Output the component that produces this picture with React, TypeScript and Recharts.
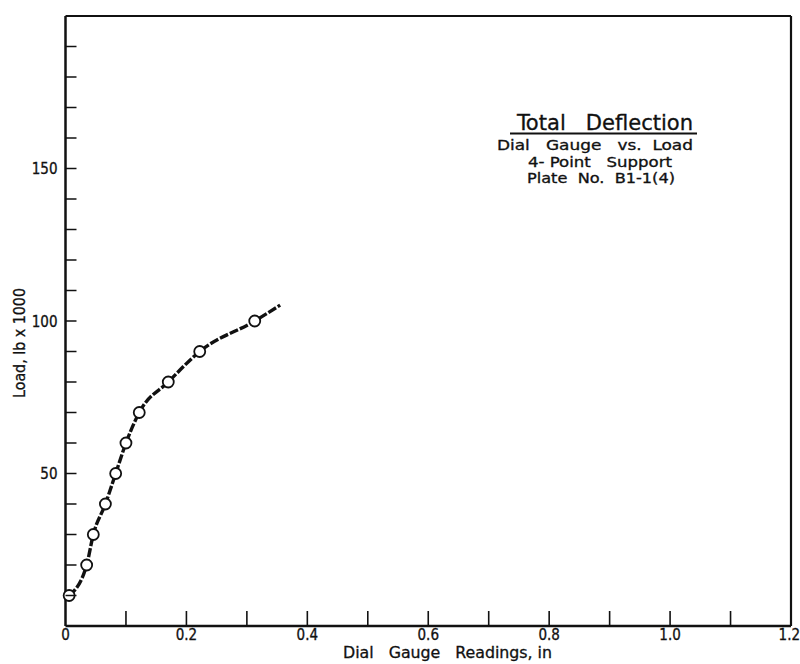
import React from 'react';
import { ComposedChart, Line, Scatter, XAxis, YAxis } from 'recharts';

// Measured load points (lb x 1000) vs dial gauge readings (in)
const readings = [0.006, 0.035, 0.046, 0.066, 0.083, 0.1, 0.122, 0.17, 0.222, 0.313];
const loads = [10, 20, 30, 40, 50, 60, 70, 80, 90, 100];
// the faired curve continues a little past the last point
const curveEndReading = [0.355];
const curveEndLoad = [105.2];

const xTicks = [0, 0.1, 0.2, 0.3, 0.4, 0.5, 0.6, 0.7, 0.8, 0.9, 1.0, 1.1, 1.2];
const xTickLabels = ['0', '', '0.2', '', '0.4', '', '0.6', '', '0.8', '', '1.0', '', '1.2'];
const yTicks = [10, 20, 30, 40, 50, 60, 70, 80, 90, 100, 110, 120, 130, 140, 150, 160, 170, 180, 190];
const yTickLabels = ['', '', '', '', '50', '', '', '', '', '100', '', '', '', '', '150', '', '', '', ''];

const titleLines = ['Total   Deflection', 'Dial   Gauge   vs.  Load', '4- Point   Support', 'Plate  No.  B1-1(4)'];
const xAxisTitle = 'Dial   Gauge   Readings, in';
const yAxisTitle = 'Load, lb x 1000';

const points = readings.map((x, i) => ({ x, y: loads[i] }));
const curve = [...points, ...curveEndReading.map((x, i) => ({ x, y: curveEndLoad[i] }))];

const FONT = "'DejaVu Sans Condensed', 'DejaVu Sans', sans-serif";
const INK = '#111';

const BottomTick = (props: any) => {
  const { x, y, index } = props;
  const last = index === xTicks.length - 1;
  const inner = index > 0 && !last;
  return (
    <g>
      {inner && <line x1={x} x2={x} y1={y} y2={y - 15} stroke={INK} strokeWidth={1.6} />}
      <text
        x={last ? x + 9 : x}
        y={y + 14}
        textAnchor={last ? 'end' : 'middle'}
        fontSize={15}
        fontFamily={FONT}
        fill={INK}
        stroke={INK}
        strokeWidth={0.3}
      >
        {xTickLabels[index]}
      </text>
    </g>
  );
};

const TopTick = (props: any) => {
  const { x, y, index } = props;
  if (index === 0 || index === xTicks.length - 1) return <g />;
  return <line x1={x} x2={x} y1={y} y2={y + 14} stroke={INK} strokeWidth={1.6} />;
};

const LeftTick = (props: any) => {
  const { x, y, index } = props;
  return (
    <g>
      <line x1={x} x2={x + 11} y1={y} y2={y} stroke={INK} strokeWidth={1.5} />
      <text
        x={x - 8}
        y={y + 5.5}
        textAnchor="end"
        fontSize={15}
        fontFamily={FONT}
        fill={INK}
        stroke={INK}
        strokeWidth={0.3}
      >
        {yTickLabels[index]}
      </text>
    </g>
  );
};

const RightTick = (props: any) => {
  const { x, y } = props;
  return <line x1={x - 12} x2={x} y1={y} y2={y} stroke={INK} strokeWidth={1.5} />;
};

const OpenCircle = (props: any) => {
  const { cx, cy } = props;
  return <circle cx={cx} cy={cy} r={5.5} fill="#fff" stroke={INK} strokeWidth={1.8} />;
};

export default function App() {
  return (
    <div>
      <style>{`body{margin:0}`}</style>
      <ComposedChart
        width={800}
        height={664}
        margin={{ top: 15, right: 8, bottom: 0, left: 0 }}
      >
        <XAxis
          xAxisId={0}
          dataKey="x"
          type="number"
          domain={[0, 1.2]}
          ticks={xTicks}
          interval={0}
          height={38}
          tickSize={0}
          tickMargin={0}
          tickLine={false}
          axisLine={{ stroke: INK, strokeWidth: 2.5 }}
          tick={<BottomTick />}
        />
        <XAxis
          xAxisId="top"
          orientation="top"
          dataKey="x"
          type="number"
          domain={[0, 1.2]}
          ticks={xTicks}
          interval={0}
          height={1}
          tickSize={0}
          tickMargin={0}
          tickLine={false}
          axisLine={{ stroke: INK, strokeWidth: 2.2 }}
          tick={<TopTick />}
        />
        <YAxis
          yAxisId={0}
          type="number"
          domain={[0, 200]}
          ticks={yTicks}
          interval={0}
          width={65.5}
          tickSize={0}
          tickMargin={0}
          tickLine={false}
          axisLine={{ stroke: INK, strokeWidth: 2.5 }}
          tick={<LeftTick />}
        />
        <YAxis
          yAxisId="right"
          orientation="right"
          type="number"
          domain={[0, 200]}
          ticks={yTicks}
          interval={0}
          width={1}
          tickSize={0}
          tickMargin={0}
          tickLine={false}
          axisLine={{ stroke: INK, strokeWidth: 2.2 }}
          tick={<RightTick />}
        />
        <Line
          data={curve}
          dataKey="y"
          type="monotone"
          stroke={INK}
          strokeWidth={3.4}
          strokeDasharray="9 2"
          dot={false}
          activeDot={false}
          isAnimationActive={false}
        />
        <Scatter data={points} dataKey="y" shape={<OpenCircle />} isAnimationActive={false} />

        <g fontFamily={FONT} fill={INK} stroke={INK} strokeWidth={0.3}>
          <text x={605} y={130} textAnchor="middle" fontSize={22} textLength={176} lengthAdjust="spacingAndGlyphs" style={{ whiteSpace: 'pre' }}>
            {titleLines[0]}
          </text>
          <line x1={510} x2={697} y1={133.5} y2={133.5} stroke={INK} strokeWidth={2} />
          <text x={595} y={150} textAnchor="middle" fontSize={14.5} textLength={196} lengthAdjust="spacingAndGlyphs" style={{ whiteSpace: 'pre' }}>
            {titleLines[1]}
          </text>
          <text x={600} y={167} textAnchor="middle" fontSize={14.5} textLength={144} lengthAdjust="spacingAndGlyphs" style={{ whiteSpace: 'pre' }}>
            {titleLines[2]}
          </text>
          <text x={601} y={183} textAnchor="middle" fontSize={14.5} textLength={148} lengthAdjust="spacingAndGlyphs" style={{ whiteSpace: 'pre' }}>
            {titleLines[3]}
          </text>
          <text x={447.5} y={658} textAnchor="middle" fontSize={16} textLength={209} lengthAdjust="spacingAndGlyphs" style={{ whiteSpace: 'pre' }}>
            {xAxisTitle}
          </text>
          <text
            x={25}
            y={343}
            textAnchor="middle"
            fontSize={16}
            transform="rotate(-90 25 343)"
            textLength={110}
            lengthAdjust="spacingAndGlyphs"
          >
            {yAxisTitle}
          </text>
        </g>
      </ComposedChart>
    </div>
  );
}
